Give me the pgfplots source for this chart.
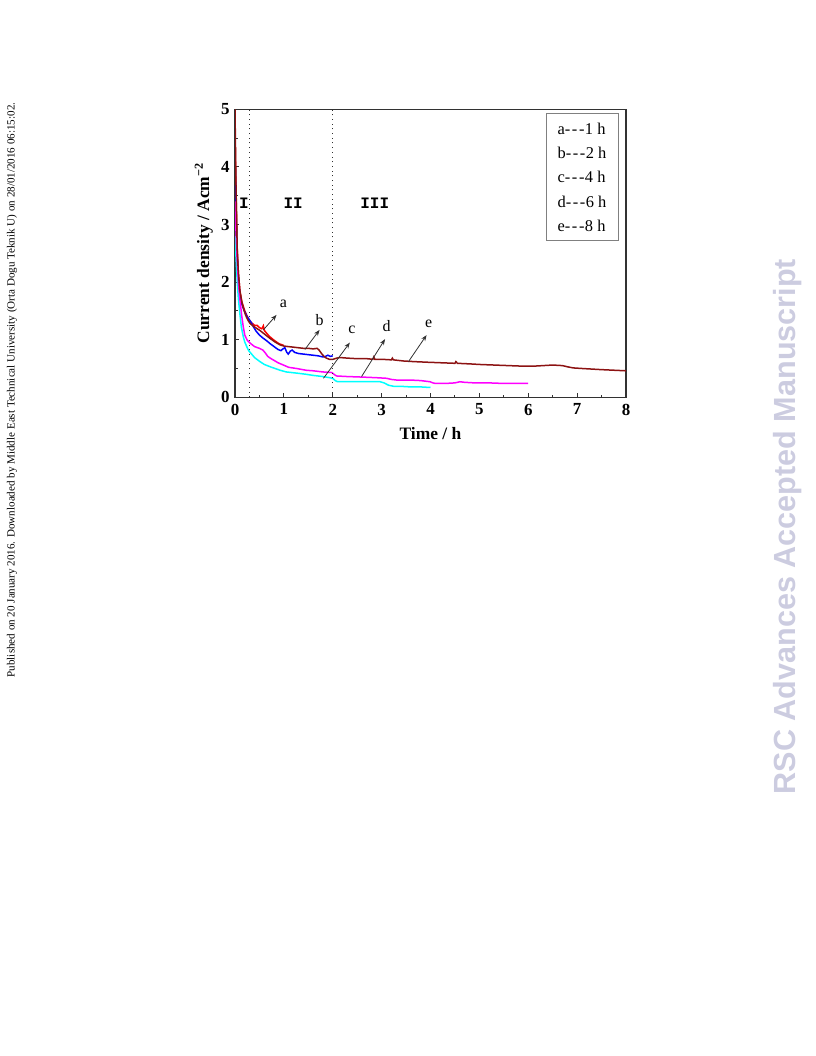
\documentclass[border=0pt]{standalone}
\usepackage{pgfplots}
\pgfplotsset{compat=1.18}
\usepackage{fontspec}
\setmainfont{Liberation Serif}
\newfontfamily\monofont{Liberation Mono}
\newfontfamily\sansfont{Liberation Sans}
\usetikzlibrary{arrows.meta}
\definecolor{wine}{RGB}{140,18,18}
\definecolor{cRed}{RGB}{255,0,0}
\definecolor{cBlue}{RGB}{0,0,255}
\definecolor{cCyan}{RGB}{0,255,255}
\definecolor{cMag}{RGB}{255,0,255}
\definecolor{wm}{RGB}{204,204,224}
\definecolor{axgray}{RGB}{50,50,50}
\newcommand{\dsh}{-\kern1.6bp-\kern1.6bp-\kern0.5bp}
\begin{document}
\begin{tikzpicture}
\path[use as bounding box] (0,0) rectangle (816bp,1056bp);
% side texts
\node[rotate=90, inner sep=0, font=\fontsize{11.1}{13}\selectfont] at (12bp,666bp)
  {Published on 20 January 2016. Downloaded by Middle East Technical University (Orta Dogu Teknik U) on 28/01/2016 06:15:02.};
\node[rotate=90, inner sep=0, text=wm, font=\sansfont\bfseries\fontsize{30.7}{32}\selectfont] at (788bp,529.5bp)
  {RSC Advances Accepted Manuscript};
\begin{axis}[
  at={(235bp,658.7bp)}, anchor=south west,
  width=391bp, height=288bp, scale only axis,
  xmin=0, xmax=8, ymin=0, ymax=5,
  xtick={0,1,...,8}, ytick={0,1,...,5},
  minor x tick num=1, minor y tick num=1,
  xtick pos=bottom, ytick pos=left,
  tick align=inside,
  major tick length=4bp, minor tick length=2.5bp,
  axis line style={axgray, line width=1.3bp},
  every tick/.style={axgray, line width=1bp},
  /pgf/number format/assume math mode=true,
  ticklabel style={font=\fontsize{17}{17}\selectfont\bfseries},
  xticklabel style={yshift=-3bp},
  yticklabel style={xshift=-2bp},
  xlabel={Time / h},
  ylabel={Current density / Acm\textsuperscript{−2}},
  label style={font=\fontsize{17.5}{18}\selectfont\bfseries},
  xlabel style={at={(axis description cs:0.5,0)}, anchor=north, inner sep=0, yshift=-30bp},
  ylabel style={at={(axis description cs:-0.056,0.5)}, anchor=south, inner sep=0, rotate=0},
  clip=true,
]
% a (1 h)
\addplot[cRed, line width=1.5bp] coordinates {
(0,4.6)(0.02,3.6)(0.045,2.6)(0.07,2.15)(0.1,1.85)(0.14,1.66)(0.2,1.50)(0.27,1.37)(0.33,1.30)(0.4,1.25)(0.45,1.25)(0.5,1.21)(0.55,1.19)(0.58,1.24)(0.6,1.16)(0.65,1.11)(0.7,1.06)(0.8,0.99)(0.9,0.93)(1.0,0.90)
};
% b (2 h)
\addplot[cBlue, line width=1.5bp] coordinates {
(0,4.2)(0.02,3.3)(0.04,2.6)(0.06,2.2)(0.08,1.95)(0.1,1.8)(0.14,1.62)(0.18,1.52)(0.24,1.41)(0.29,1.35)(0.33,1.30)(0.38,1.22)(0.43,1.15)(0.5,1.08)(0.57,1.03)(0.65,0.98)(0.72,0.93)(0.8,0.88)(0.88,0.83)(0.94,0.81)(0.98,0.84)(1.02,0.86)(1.06,0.78)(1.09,0.75)(1.13,0.80)(1.17,0.82)(1.22,0.78)(1.3,0.76)(1.4,0.75)(1.5,0.74)(1.6,0.73)(1.7,0.72)(1.8,0.70)(1.85,0.71)(1.9,0.73)(1.95,0.71)(2.0,0.72)
};
% c (4 h)
\addplot[cCyan, line width=1.5bp] coordinates {
(0,2.8)(0.02,2.45)(0.03,2.27)(0.05,1.95)(0.07,1.70)(0.1,1.45)(0.13,1.22)(0.17,1.05)(0.2,0.96)(0.24,0.88)(0.28,0.81)(0.33,0.76)(0.4,0.69)(0.51,0.62)(0.6,0.57)(0.72,0.53)(0.82,0.50)(0.92,0.47)(1.05,0.44)(1.26,0.42)(1.45,0.40)(1.6,0.38)(1.8,0.36)(1.94,0.34)(2.0,0.33)(2.05,0.29)(2.1,0.27)(2.3,0.27)(2.6,0.27)(2.8,0.27)(2.97,0.27)(3.05,0.25)(3.14,0.21)(3.25,0.19)(3.4,0.19)(3.6,0.18)(3.8,0.18)(4.0,0.17)
};
% d (6 h)
\addplot[cMag, line width=1.5bp] coordinates {
(0,3.4)(0.02,2.9)(0.04,2.45)(0.07,1.98)(0.1,1.7)(0.14,1.40)(0.17,1.22)(0.2,1.08)(0.25,0.99)(0.31,0.94)(0.4,0.88)(0.5,0.85)(0.57,0.82)(0.62,0.77)(0.67,0.71)(0.72,0.68)(0.78,0.65)(0.88,0.60)(0.99,0.56)(1.1,0.52)(1.26,0.50)(1.45,0.47)(1.6,0.46)(1.8,0.44)(1.98,0.43)(2.04,0.39)(2.08,0.37)(2.3,0.36)(2.63,0.35)(2.9,0.34)(3.1,0.33)(3.2,0.31)(3.3,0.30)(3.45,0.30)(3.58,0.30)(3.8,0.29)(3.99,0.27)(4.05,0.25)(4.1,0.24)(4.3,0.24)(4.5,0.25)(4.6,0.27)(4.7,0.26)(4.9,0.25)(5.2,0.25)(5.5,0.24)(5.8,0.24)(6.0,0.24)
};
% e (8 h)
\addplot[wine, line width=1.5bp] coordinates {
(0,5.0)(0.02,3.7)(0.047,2.5)(0.07,2.15)(0.1,1.85)(0.14,1.65)(0.17,1.55)(0.22,1.42)(0.27,1.33)(0.31,1.28)(0.4,1.22)(0.51,1.16)(0.6,1.10)(0.72,1.02)(0.82,0.96)(0.92,0.91)(1.0,0.89)(1.09,0.88)(1.2,0.87)(1.3,0.86)(1.4,0.85)(1.5,0.85)(1.6,0.84)(1.68,0.85)(1.72,0.82)(1.77,0.76)(1.82,0.71)(1.87,0.68)(1.93,0.66)(2.01,0.66)(2.08,0.68)(2.15,0.69)(2.3,0.68)(2.5,0.67)(2.7,0.67)(2.82,0.66)(2.84,0.70)(2.86,0.66)(3.0,0.66)(3.2,0.65)(3.22,0.68)(3.24,0.65)(3.45,0.63)(3.65,0.62)(3.9,0.61)(4.2,0.60)(4.5,0.59)(4.52,0.62)(4.55,0.59)(4.8,0.58)(5.0,0.57)(5.3,0.56)(5.6,0.55)(5.9,0.54)(6.1,0.54)(6.3,0.55)(6.5,0.56)(6.7,0.55)(6.8,0.53)(6.92,0.51)(7.1,0.50)(7.3,0.49)(7.5,0.48)(7.75,0.47)(8.0,0.46)
};
% dotted region separators
\draw[axgray, line width=1bp, dash pattern=on 1bp off 3.7bp] (axis cs:0.3,0) -- (axis cs:0.3,5);
\draw[axgray, line width=1bp, dash pattern=on 1bp off 3.7bp] (axis cs:2,0) -- (axis cs:2,5);
% region labels
\node[font=\monofont\bfseries\fontsize{16}{16}\selectfont] at (axis cs:0.18,3.37) {I};
\node[font=\monofont\bfseries\fontsize{16}{16}\selectfont] at (axis cs:1.19,3.37) {II};
\node[font=\monofont\bfseries\fontsize{16}{16}\selectfont] at (axis cs:2.86,3.37) {III};
% arrows and curve labels
\begin{scope}[axgray, line width=0.8bp, -{Stealth[length=6bp,width=4.5bp]}]
\draw (axis cs:0.58,1.17) -- (axis cs:0.85,1.43);
\draw (axis cs:1.43,0.83) -- (axis cs:1.73,1.17);
\draw (axis cs:1.81,0.33) -- (axis cs:2.35,0.95);
\draw (axis cs:2.59,0.36) -- (axis cs:3.07,1.01);
\draw (axis cs:3.55,0.62) -- (axis cs:3.92,1.08);
\end{scope}
\node[font=\fontsize{16}{16}\selectfont] at (axis cs:0.99,1.63) {a};
\node[font=\fontsize{16}{16}\selectfont] at (axis cs:1.73,1.34) {b};
\node[font=\fontsize{16}{16}\selectfont] at (axis cs:2.39,1.18) {c};
\node[font=\fontsize{16}{16}\selectfont] at (axis cs:3.10,1.23) {d};
\node[font=\fontsize{16}{16}\selectfont] at (axis cs:3.96,1.28) {e};
% legend box
\node[draw=gray, line width=0.8bp, minimum width=72bp, minimum height=127bp, inner sep=0, align=left,
      font=\fontsize{16.5}{24.5}\selectfont] at (axis cs:7.10,3.82)
  {a\dsh 1 h\\ b\dsh 2 h\\ c\dsh 4 h\\ d\dsh 6 h\\ e\dsh 8 h};
\end{axis}
\end{tikzpicture}
\end{document}
